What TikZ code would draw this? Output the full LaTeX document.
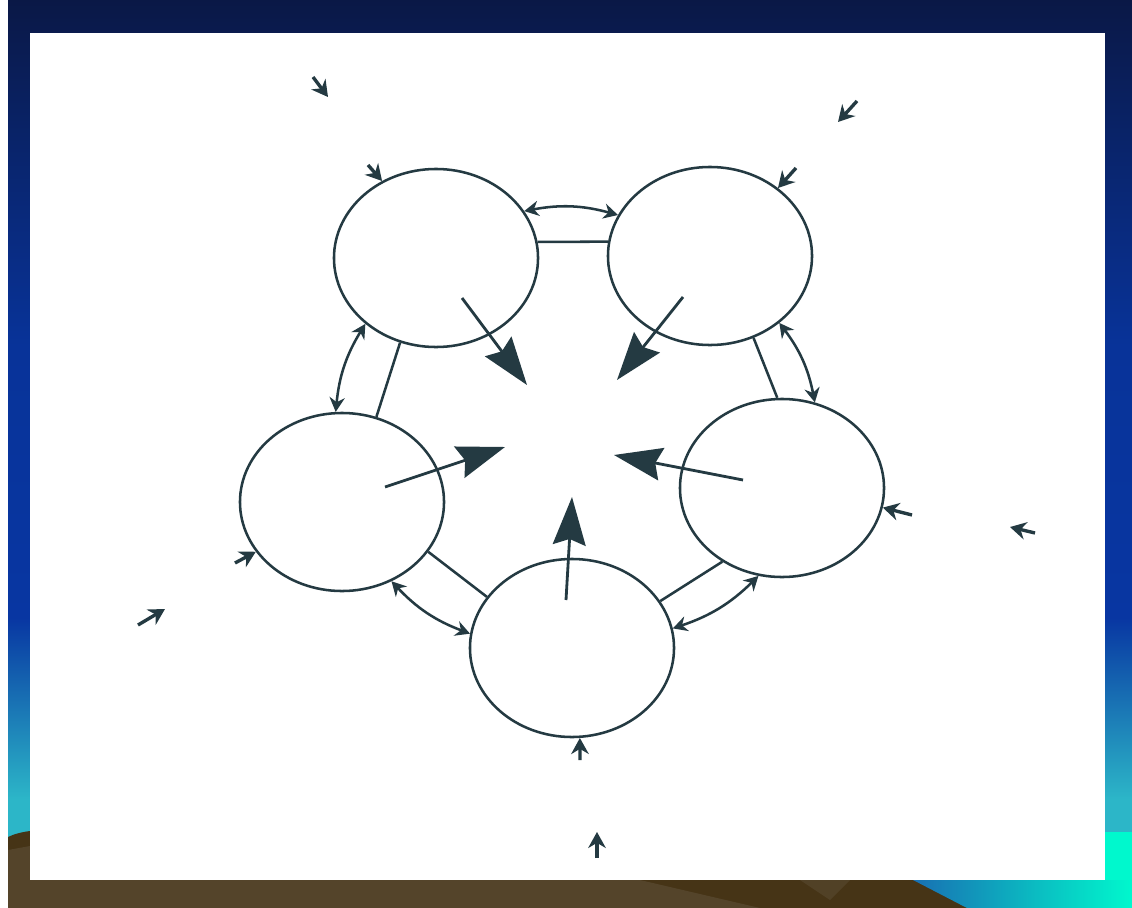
\documentclass[tikz,border=0pt]{standalone}
\usetikzlibrary{arrows.meta,shapes.geometric}

\definecolor{ink}{RGB}{36,58,66}
\definecolor{navy}{RGB}{10,24,70}
\definecolor{slideblue}{RGB}{8,54,162}
\definecolor{slidecyan}{RGB}{44,182,200}
\definecolor{aqua}{RGB}{0,248,205}
\definecolor{mud}{RGB}{70,52,22}
\definecolor{sand}{RGB}{84,68,42}
\pgfdeclareverticalshading{slidebg}{100bp}{color(0bp)=(slidecyan); color(31bp)=(slidecyan);
  color(36.5bp)=(slideblue!55!slidecyan); color(41bp)=(slideblue); color(56bp)=(slideblue!90!navy);
  color(67bp)=(navy!60!slideblue); color(75bp)=(navy); color(100bp)=(navy)}

\begin{document}
\begin{tikzpicture}[x=0.025cm, y=-0.025cm, line width=1.8pt, >={Stealth[length=3.6mm, width=3.8mm]},
  bubble/.style={draw=ink, ellipse, minimum width=5.1cm, minimum height=4.45cm, inner sep=0pt},
  bigarrow/.style={draw=ink, fill=ink, line width=2pt, -{Stealth[length=1.2cm, width=0.82cm, inset=0.15cm]}},
  stub/.style={draw=ink, line width=2.4pt, -{Stealth[length=4mm, width=4.4mm]}}]
  \useasboundingbox (0,0) rectangle (1132,908);
  % --- fondo de la diapositiva ---
  \fill[white] (0,0) rectangle (1132,908);
  \shade[shading=slidebg] (8,0) rectangle (1132,908);
  \fill[mud] (8,837) .. controls (14,834) and (22,832) .. (30,831) -- (30,908) -- (8,908) -- cycle;
  \fill[mud] (8,880) rectangle (1132,908);
  \fill[sand] (8,850) -- (30,846) -- (30,880) -- (640,880) -- (760,908) -- (8,908) -- cycle;
  \fill[sand!80!mud] (800,880) -- (850,880) -- (830,900) -- cycle;
  \shade[left color=slideblue!55!slidecyan, right color=aqua] (913,880) -- (1132,880) -- (1132,908) -- (967,908) -- cycle;
  \fill[aqua] (1105,832) rectangle (1132,880);
  \fill[white] (30,33) rectangle (1105,880);
  % --- celdas ---
  \foreach \n/\x/\y in {c1/436/258, c2/710/256, c3/342/502, c4/782/488, c5/572/648} {
    \node[bubble] (\n) at (\x,\y) {};
  }
  % --- uniones entre celdas vecinas: recta interior, arco exterior ---
  \foreach \a/\b/\sa/\sb/\oa/\ob in {c1/c2/9/172/28/156, c2/c4/-62/93/-44/69, c4/c5/-129/28/-105/11,
                                    c5/c3/149/-30/172/-58, c3/c1/68/-113/94/-137} {
    \draw[ink] (\a.\sa) -- (\b.\sb);
    \draw[ink, <->] (\a.\oa) to[bend left=13] (\b.\ob);
  }
  % --- flechas grandes hacia el centro ---
  \foreach \n/\sx/\sy/\tx/\ty in {c1/462/298/527/385, c2/683/297/617/380, c3/385/487/505/447,
                                  c4/743/480/614/455, c5/566/600/572/497} {
    \coordinate (\n-s) at (\sx,\sy);
    \coordinate (\n-t) at (\tx,\ty);
    \draw[bigarrow] (\n-s) -- (\n-t);
  }
  % --- flechas cortas que llegan a las celdas ---
  \foreach \n/\sx/\sy/\ang in {c1/368/165/125, c2/796/168/45, c4/912/515/-11, c3/235/563/-150, c5/580/760/-85} {
    \coordinate (\n-in) at (\sx,\sy);
    \draw[stub] (\n-in) -- (\n.\ang);
  }
  % --- flechas sueltas alrededor ---
  \foreach \k/\sx/\sy/\tx/\ty in {1/313/77/328/97, 2/857/101/838/122, 3/1035/533/1010/527,
                                  4/138/625/165/609, 5/597/858/597/832} {
    \coordinate (f\k-s) at (\sx,\sy);
    \coordinate (f\k-t) at (\tx,\ty);
    \draw[stub] (f\k-s) -- (f\k-t);
  }
\end{tikzpicture}
\end{document}
